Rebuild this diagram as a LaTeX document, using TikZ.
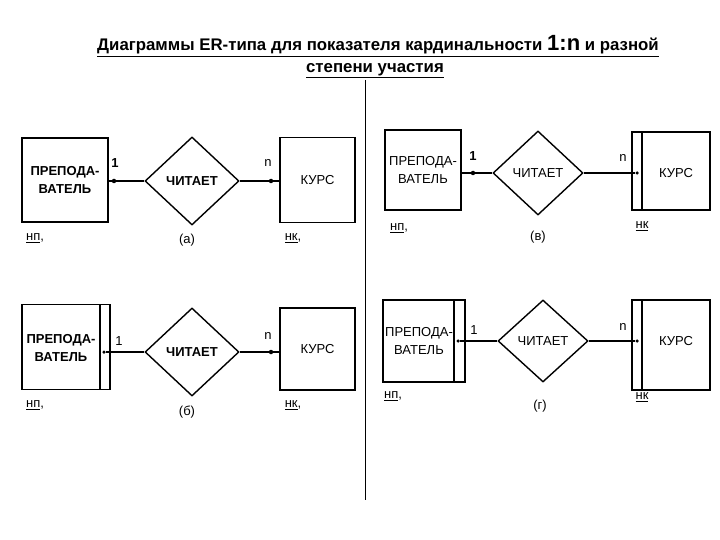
\documentclass[tikz,border=0pt]{standalone}
\usepackage{fontspec}
\setmainfont{Liberation Sans}
\usetikzlibrary{shapes.geometric}
\begin{document}
\begin{tikzpicture}[x=1pt,y=-1pt,
  ent/.style={draw,line width=1.4pt,minimum width=#1,inner sep=0pt},
  rel/.style={draw,diamond,line width=1.4pt,minimum width=94pt,minimum height=88pt,inner sep=0pt,font=\fontsize{13}{15}\selectfont},
  dot/.style={circle,fill,inner sep=0pt,minimum size=4.5pt},
  lbl/.style={font=\fontsize{13}{15}\selectfont},
  bl/.style={font=\fontsize{13}{15}\selectfont\bfseries},
  con/.style={line width=1.4pt}]
\useasboundingbox (0,0) rectangle (720,540);
\node[font=\fontsize{16.8}{19}\selectfont\bfseries] (t1) at (378,46) {\underline{Диаграммы ER-типа для показателя кардинальности {\fontsize{22}{23}\selectfont 1:n} и разной}};
\node[font=\fontsize{16.8}{19}\selectfont\bfseries] (t2) at (375,71) {\underline{степени участия}};
\draw (365,80) -- (365,500);
% panel a
\node[ent=86pt,minimum height=84pt,align=center,bl] (pa) at (65,180) {ПРЕПОДА-\\[3pt]ВАТЕЛЬ};
\node[rel,bl] (ra) at (192,181) {ЧИТАЕТ};
\node[ent=75pt,minimum height=85pt,lbl] (ka) at (317.5,180) {КУРС};
\node[dot] (da1) at (114,181) {};
\node[dot] (da2) at (271,181) {};
\draw[con] (da1) -- (ra.west); \draw[con] (ra.east) -- (da2);
\draw[con] (pa.east |- da1) -- (da1); \draw[con] (da2) -- (ka.west |- da2);
\node[bl] at (115,163) {1};
\node[lbl] at (268,163) {n};
\node[lbl] at (35,238) {\underline{нп},};
\node[lbl] at (187,240) {(а)};
\node[lbl] at (293,238) {\underline{нк},};
% panel b (top right)
\node[ent=76pt,minimum height=80pt,align=center,lbl] (pb) at (423,170) {ПРЕПОДА-\\[3pt]ВАТЕЛЬ};
\node[rel,minimum width=90pt,minimum height=84pt] (rb) at (538,173) {ЧИТАЕТ};
\node[ent=78pt,minimum height=78pt] (kb) at (671,171) {};
\draw[line width=1.4pt] (642,132) -- (642,210);
\node[lbl] at (676,173) {КУРС};
\node[dot] (db1) at (473,173) {};
\node[dot,minimum size=3.5pt] (db2) at (637,173) {};
\draw[con] (db1) -- (rb.west); \draw[con] (rb.east) -- (db2);
\draw[con] (pb.east |- db1) -- (db1);
\node[bl] at (473,156) {1};
\node[lbl] at (623,158) {n};
\node[lbl] at (399,228) {\underline{нп},};
\node[lbl] at (538,237) {(в)};
\node[lbl] at (642,226) {\underline{нк}};
% panel c (bottom left)
\node[ent=88pt,minimum height=85pt] (pc) at (66,347) {};
\draw[line width=1.4pt] (100,305) -- (100,390);
\node[align=center,bl] at (61,348) {ПРЕПОДА-\\[3pt]ВАТЕЛЬ};
\node[rel,bl] (rc) at (192,352) {ЧИТАЕТ};
\node[ent=75pt,minimum height=82pt,lbl] (kc) at (317.5,349) {КУРС};
\node[dot,minimum size=3.5pt] (dc1) at (104,352) {};
\node[dot] (dc2) at (271,352) {};
\draw[con] (dc1) -- (rc.west); \draw[con] (rc.east) -- (dc2);
\draw[con] (dc2) -- (kc.west |- dc2);
\node[lbl] at (119,341) {1};
\node[lbl] at (268,336) {n};
\node[lbl] at (35,405) {\underline{нп},};
\node[lbl] at (187,412) {(б)};
\node[lbl] at (293,405) {\underline{нк},};
% panel d (bottom right)
\node[ent=82pt,minimum height=82pt] (pd) at (424,341) {};
\draw[line width=1.4pt] (454,300) -- (454,382);
\node[align=center,lbl] at (419,341) {ПРЕПОДА-\\[3pt]ВАТЕЛЬ};
\node[rel,minimum width=90pt,minimum height=82pt] (rd) at (543,341) {ЧИТАЕТ};
\node[ent=78pt,minimum height=90pt] (kd) at (671,345) {};
\draw[line width=1.4pt] (642,300) -- (642,390);
\node[lbl] at (676,341) {КУРС};
\node[dot,minimum size=3.5pt] (dd1) at (458,341) {};
\node[dot,minimum size=3.5pt] (dd2) at (637,341) {};
\draw[con] (dd1) -- (rd.west); \draw[con] (rd.east) -- (dd2);
\node[lbl] at (474,330) {1};
\node[lbl] at (623,327) {n};
\node[lbl] at (393,396) {\underline{нп},};
\node[lbl] at (540,406) {(г)};
\node[lbl] at (642,397) {\underline{нк}};
\end{tikzpicture}
\end{document}
